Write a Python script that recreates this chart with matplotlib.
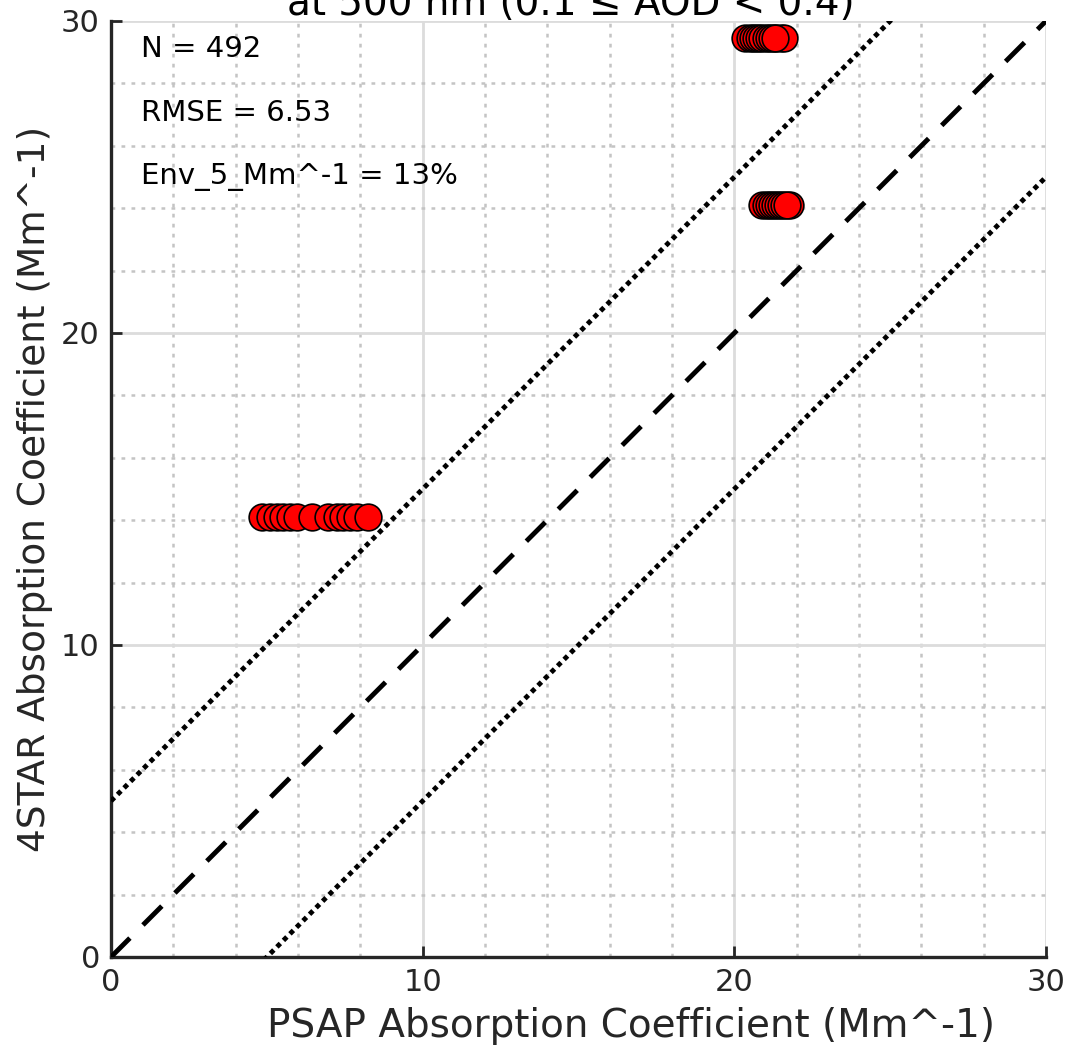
import numpy as np
from matplotlib import pyplot as plt
from matplotlib.ticker import MultipleLocator

# PSAP (x) vs 4STAR (y) absorption
psap_a = [4.83, 5.1, 5.32, 5.53, 5.74, 5.96, 6.44, 6.97, 7.24, 7.45, 7.67, 7.88, 8.25]
star_a = [14.1] * len(psap_a)
psap_b = [20.35, 20.5, 20.6, 20.7, 20.8, 20.9, 21.0, 21.1, 21.2, 21.35, 21.5, 21.6, 21.3]
star_b = [29.45] * len(psap_b)
psap_c = [20.9, 21.0, 21.1, 21.2, 21.3, 21.4, 21.5, 21.6, 21.8, 21.7]
star_c = [24.1] * len(psap_c)

stats = ["N = 492", "RMSE = 6.53", "Env_5_Mm^-1 = 13%"]
env = 5
lim = [0, 30]

plt.rcParams['font.family'] = ['DejaVu Sans']
fig = plt.figure(figsize=(10.66, 10.57), dpi=100)
ax = fig.add_axes([111/1066, 1 - 957/1057, (1046-111)/1066, (957-21)/1057])

xs = np.array(lim)
ax.plot(xs, xs, color='black', lw=3.5, ls=(0, (5.5, 3.8)), zorder=3)
ax.plot(xs, xs + env, color='black', lw=3.5, ls=(0, (1, 0.9)), zorder=3)
ax.plot(xs, xs - env, color='black', lw=3.5, ls=(0, (1, 0.9)), zorder=3)

for px, sy in [(psap_a, star_a), (psap_b, star_b), (psap_c, star_c)]:
    ax.scatter(px, sy, s=370, facecolor='red', edgecolor='black', linewidth=1.2,
               zorder=4, clip_on=False)

ax.set_xlim(lim)
ax.set_ylim(lim)
ax.xaxis.set_major_locator(MultipleLocator(10))
ax.yaxis.set_major_locator(MultipleLocator(10))
ax.xaxis.set_minor_locator(MultipleLocator(2))
ax.yaxis.set_minor_locator(MultipleLocator(2))
ax.grid(which='major', color='#dcdcdc', lw=2, ls='-')
ax.grid(which='minor', color='#c4c4c4', lw=1.8, ls=(0, (1.5, 2.5)))
ax.set_axisbelow(True)

for s in ['top', 'right']:
    ax.spines[s].set_visible(False)
for s in ['left', 'bottom']:
    ax.spines[s].set_linewidth(2.4)
    ax.spines[s].set_color('#262626')
ax.tick_params(which='major', direction='in', length=8, width=2, colors='#262626',
               labelsize=22, pad=8)
ax.tick_params(which='minor', direction='in', length=0)

ax.set_xlabel('PSAP Absorption Coefficient (Mm^-1)', fontsize=28, color='#262626')
ax.xaxis.set_label_coords((631 - 111) / 935, -50 / 936)
ax.set_ylabel('4STAR Absorption Coefficient (Mm^-1)', fontsize=27, color='#262626', labelpad=6)

for i, t in enumerate(stats):
    ax.text(0.95, 29.1 - i * 2.05, t, fontsize=21, color='black', va='center')

fig.text(0.5357, 1 - 15/1057, 'at 500 nm (0.1 \u2264 AOD < 0.4)', fontsize=28,
         color='black', ha='center', va='baseline')

fig.savefig('out.png', dpi=100)
